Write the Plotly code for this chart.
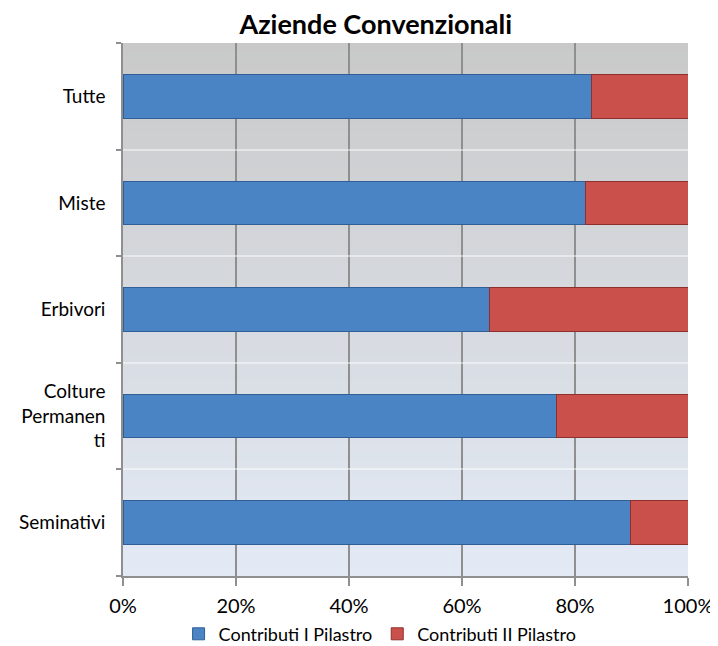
import plotly.graph_objects as go

categories = ["Seminativi", "Colture<br>Permanen<br>ti", "Erbivori", "Miste", "Tutte"]
pilastro_1 = [89.9, 76.8, 64.8, 81.8, 82.9]
pilastro_2 = [100 - v for v in pilastro_1]
x_ticks = [0, 20, 40, 60, 80, 100]
x_tick_labels = ["0%", "20%", "40%", "60%", "80%", "100%"]

FONT = "Lato, Open Sans, sans-serif"

fig = go.Figure()
fig.add_trace(go.Bar(
    y=categories, x=pilastro_1, orientation="h", name="Contributi I Pilastro",
    marker=dict(color="#4a84c4", line=dict(color="#2f5f96", width=1)),
))
fig.add_trace(go.Bar(
    y=categories, x=pilastro_2, orientation="h", name="Contributi II Pilastro",
    marker=dict(color="#c9504b", line=dict(color="#8e2f2c", width=1)),
))

# gradient plot background (gray at top to light blue at bottom)
shapes = []
n = 60
top = (201, 201, 201)
bot = (227, 234, 245)
for i in range(n):
    t = i / (n - 1)
    c = tuple(round(top[k] + (bot[k] - top[k]) * t) for k in range(3))
    shapes.append(dict(
        type="rect", xref="x domain", yref="y domain",
        x0=0, x1=1, y0=max(0, 1 - (i + 1) / n - 0.01), y1=1 - i / n,
        fillcolor="rgb(%d,%d,%d)" % c, line=dict(width=0), layer="below",
    ))

fig.update_layout(
    width=710, height=638,
    margin=dict(l=115, r=30, t=35, b=70, autoexpand=False),
    paper_bgcolor="white", plot_bgcolor="rgba(0,0,0,0)",
    barmode="stack", bargap=0.59,
    shapes=shapes,
    title=dict(text="<b>Aziende Convenzionali</b>", x=0.518, xanchor="center",
               y=0.974, yanchor="middle", font=dict(family=FONT, size=27, color="black")),
    font=dict(family=FONT, color="black"),
    legend=dict(orientation="h", x=0.455, xanchor="center", y=-0.109, yanchor="middle",
                font=dict(size=18), traceorder="normal",
                bgcolor="rgba(0,0,0,0)"),
    showlegend=True,
)
fig.update_xaxes(
    range=[0, 100], tickvals=x_ticks, ticktext=x_tick_labels,
    showgrid=True, gridcolor="#8f8f8f", gridwidth=1.5,
    showline=True, linecolor="#8f8f8f", linewidth=1.5,
    ticks="outside", ticklen=8, tickcolor="#8f8f8f", tickwidth=1.5,
    tickfont=dict(size=20), ticklabelstandoff=3, zeroline=False, automargin=False,
)
fig.update_yaxes(
    categoryorder="array", categoryarray=categories,
    tickson="boundaries", ticks="outside", ticklen=5, tickcolor="#8f8f8f", tickwidth=1.5,
    showline=True, linecolor="#8f8f8f", linewidth=1.5,
    showgrid=True, gridcolor="rgba(255,255,255,0.45)", gridwidth=1.5,
    tickfont=dict(size=19), ticklabelstandoff=12, automargin=False,
)

fig.write_html("out.html")
